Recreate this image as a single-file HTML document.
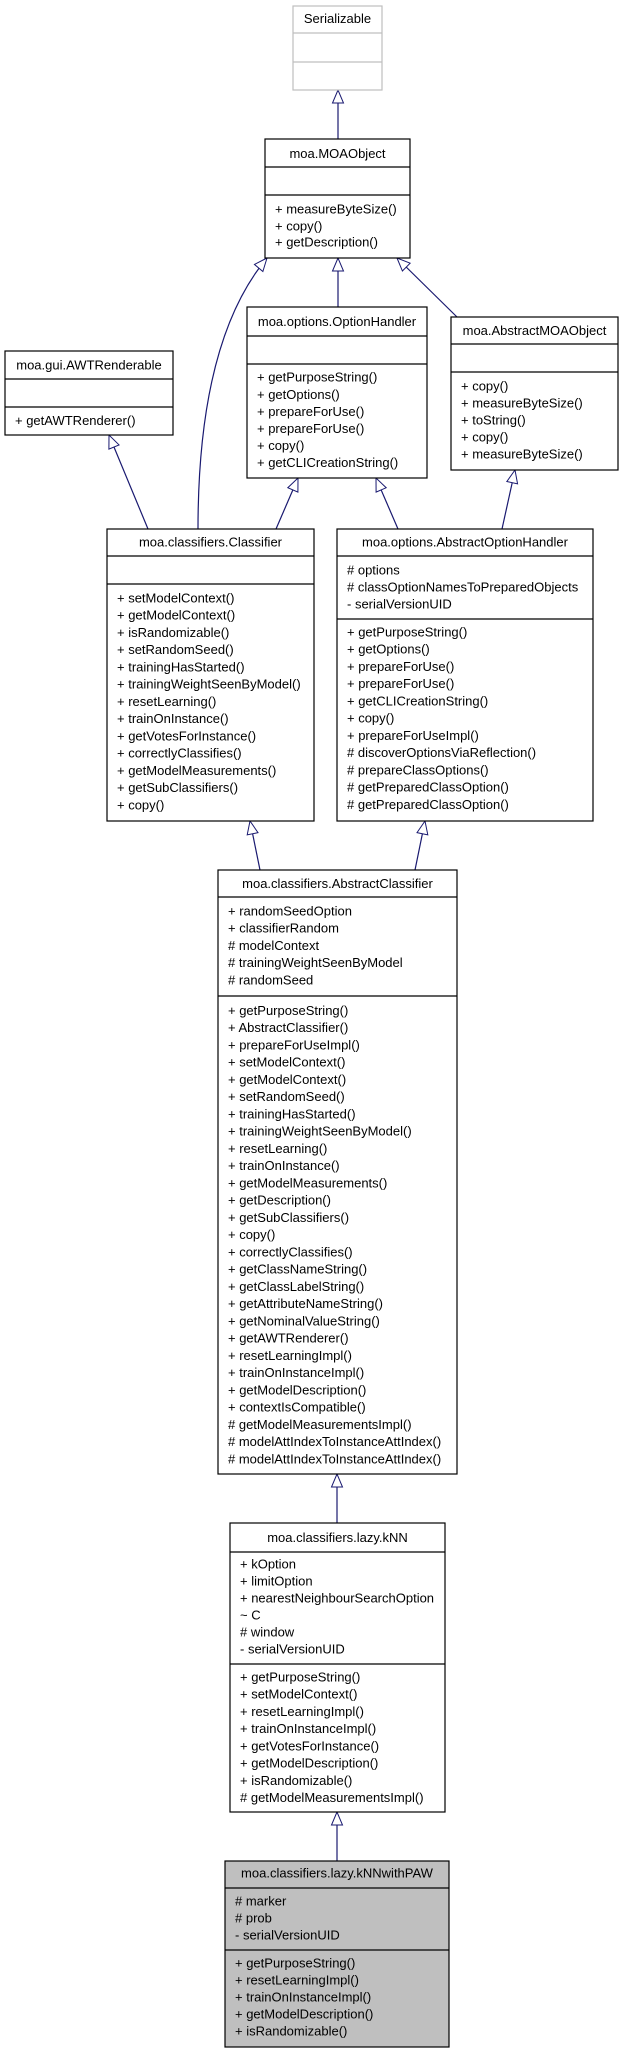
<!DOCTYPE html>
<html><head><meta charset="utf-8"><style>
html,body{margin:0;padding:0;background:#fff;}
svg{display:block;}
text{font-family:"Liberation Sans",Arial,sans-serif;font-size:13px;fill:#000;}
</style></head><body>
<svg width="624" height="2059" viewBox="0 0 624 2059" xmlns="http://www.w3.org/2000/svg">
<defs>
<marker id="a" markerUnits="userSpaceOnUse" markerWidth="16" markerHeight="14" viewBox="-14 -7 16 14" refX="0" refY="0" orient="auto">
<path d="M0,0 L-13,-5.5 L-13,5.5 Z" fill="#fff" stroke="#191970" stroke-width="1"/>
</marker>
</defs>
<g fill="none" stroke="#191970" stroke-width="1.2" marker-end="url(#a)">
<line x1="338" y1="139" x2="338" y2="90"/>
<line x1="338" y1="307" x2="338" y2="258"/>
<line x1="457" y1="317" x2="397" y2="258"/>
<path d="M198,529 C198,420 215,320 267,258"/>
<line x1="148" y1="529" x2="109" y2="435"/>
<line x1="276" y1="529" x2="298" y2="478"/>
<line x1="398" y1="529" x2="376" y2="478"/>
<line x1="502" y1="529" x2="515" y2="470"/>
<line x1="260" y1="870" x2="250" y2="821"/>
<line x1="415" y1="870" x2="425" y2="821"/>
<line x1="337" y1="1523" x2="337" y2="1474"/>
<line x1="337" y1="1861" x2="337" y2="1812"/>
</g>

<!-- Serializable -->
<g stroke="#bfbfbf" stroke-width="1.2" fill="#fff">
<rect x="293" y="6" width="89" height="84"/>
<line x1="293" y1="33" x2="382" y2="33"/><line x1="293" y1="62" x2="382" y2="62"/>
</g>
<text x="337.5" y="23" text-anchor="middle">Serializable</text>

<g stroke="#000" stroke-width="1.2" fill="#fff">
<!-- MOAObject -->
<rect x="265" y="139" width="145" height="119"/>
<line x1="265" y1="167" x2="410" y2="167"/><line x1="265" y1="195" x2="410" y2="195"/>
<!-- OptionHandler -->
<rect x="247" y="307" width="180" height="171"/>
<line x1="247" y1="336" x2="427" y2="336"/><line x1="247" y1="364" x2="427" y2="364"/>
<!-- AbstractMOAObject -->
<rect x="451" y="317" width="167" height="153"/>
<line x1="451" y1="344" x2="618" y2="344"/><line x1="451" y1="372" x2="618" y2="372"/>
<!-- AWTRenderable -->
<rect x="5" y="351" width="168" height="84"/>
<line x1="5" y1="379" x2="173" y2="379"/><line x1="5" y1="407" x2="173" y2="407"/>
<!-- Classifier -->
<rect x="107" y="529" width="207" height="292"/>
<line x1="107" y1="556" x2="314" y2="556"/><line x1="107" y1="584" x2="314" y2="584"/>
<!-- AbstractOptionHandler -->
<rect x="337" y="529" width="256" height="292"/>
<line x1="337" y1="556" x2="593" y2="556"/><line x1="337" y1="619" x2="593" y2="619"/>
<!-- AbstractClassifier -->
<rect x="218" y="870" width="239" height="604"/>
<line x1="218" y1="897" x2="457" y2="897"/><line x1="218" y1="996" x2="457" y2="996"/>
<!-- kNN -->
<rect x="230" y="1523" width="215" height="289"/>
<line x1="230" y1="1552" x2="445" y2="1552"/><line x1="230" y1="1664" x2="445" y2="1664"/>
</g>
<g stroke="#000" stroke-width="1.2" fill="#bfbfbf">
<rect x="225" y="1861" width="224" height="186"/>
<line x1="225" y1="1888" x2="449" y2="1888"/><line x1="225" y1="1950" x2="449" y2="1950"/>
</g>

<!-- MOAObject text -->
<text x="337.5" y="158" text-anchor="middle">moa.MOAObject</text>
<text x="275" y="213.5">+ measureByteSize()</text>
<text x="275" y="230.5">+ copy()</text>
<text x="275" y="246.5">+ getDescription()</text>

<!-- OptionHandler -->
<text x="337" y="326" text-anchor="middle">moa.options.OptionHandler</text>
<text x="257" y="381.5">+ getPurposeString()</text>
<text x="257" y="399">+ getOptions()</text>
<text x="257" y="416">+ prepareForUse()</text>
<text x="257" y="433">+ prepareForUse()</text>
<text x="257" y="450">+ copy()</text>
<text x="257" y="467">+ getCLICreationString()</text>

<!-- AbstractMOAObject -->
<text x="534.5" y="335" text-anchor="middle">moa.AbstractMOAObject</text>
<text x="461" y="390.5">+ copy()</text>
<text x="461" y="407.5">+ measureByteSize()</text>
<text x="461" y="424.5">+ toString()</text>
<text x="461" y="441.5">+ copy()</text>
<text x="461" y="458.5">+ measureByteSize()</text>

<!-- AWTRenderable -->
<text x="89" y="369.5" text-anchor="middle">moa.gui.AWTRenderable</text>
<text x="15" y="425">+ getAWTRenderer()</text>

<!-- Classifier -->
<text x="210.5" y="546.5" text-anchor="middle">moa.classifiers.Classifier</text>
<g>
<text x="117" y="602.5">+ setModelContext()</text>
<text x="117" y="619.7">+ getModelContext()</text>
<text x="117" y="637">+ isRandomizable()</text>
<text x="117" y="654.2">+ setRandomSeed()</text>
<text x="117" y="671.5">+ trainingHasStarted()</text>
<text x="117" y="688.7">+ trainingWeightSeenByModel()</text>
<text x="117" y="706">+ resetLearning()</text>
<text x="117" y="723.2">+ trainOnInstance()</text>
<text x="117" y="740.5">+ getVotesForInstance()</text>
<text x="117" y="757.7">+ correctlyClassifies()</text>
<text x="117" y="775">+ getModelMeasurements()</text>
<text x="117" y="792.2">+ getSubClassifiers()</text>
<text x="117" y="809.5">+ copy()</text>
</g>

<!-- AbstractOptionHandler -->
<text x="465" y="546.5" text-anchor="middle">moa.options.AbstractOptionHandler</text>
<text x="347" y="574.5"># options</text>
<text x="347" y="591.5"># classOptionNamesToPreparedObjects</text>
<text x="347" y="608.5">- serialVersionUID</text>
<text x="347" y="636.5">+ getPurposeString()</text>
<text x="347" y="653.7">+ getOptions()</text>
<text x="347" y="671">+ prepareForUse()</text>
<text x="347" y="688.2">+ prepareForUse()</text>
<text x="347" y="705.5">+ getCLICreationString()</text>
<text x="347" y="722.7">+ copy()</text>
<text x="347" y="740">+ prepareForUseImpl()</text>
<text x="347" y="757.2"># discoverOptionsViaReflection()</text>
<text x="347" y="774.5"># prepareClassOptions()</text>
<text x="347" y="791.7"># getPreparedClassOption()</text>
<text x="347" y="809"># getPreparedClassOption()</text>

<!-- AbstractClassifier -->
<text x="337.5" y="888" text-anchor="middle">moa.classifiers.AbstractClassifier</text>
<text x="228" y="915.5">+ randomSeedOption</text>
<text x="228" y="932.7">+ classifierRandom</text>
<text x="228" y="950"># modelContext</text>
<text x="228" y="967.2"># trainingWeightSeenByModel</text>
<text x="228" y="984.5"># randomSeed</text>
<g>
<text x="228" y="1015">+ getPurposeString()</text>
<text x="228" y="1032.2">+ AbstractClassifier()</text>
<text x="228" y="1049.5">+ prepareForUseImpl()</text>
<text x="228" y="1066.7">+ setModelContext()</text>
<text x="228" y="1084">+ getModelContext()</text>
<text x="228" y="1101.2">+ setRandomSeed()</text>
<text x="228" y="1118.5">+ trainingHasStarted()</text>
<text x="228" y="1135.7">+ trainingWeightSeenByModel()</text>
<text x="228" y="1153">+ resetLearning()</text>
<text x="228" y="1170.2">+ trainOnInstance()</text>
<text x="228" y="1187.5">+ getModelMeasurements()</text>
<text x="228" y="1204.7">+ getDescription()</text>
<text x="228" y="1222">+ getSubClassifiers()</text>
<text x="228" y="1239.2">+ copy()</text>
<text x="228" y="1256.5">+ correctlyClassifies()</text>
<text x="228" y="1273.7">+ getClassNameString()</text>
<text x="228" y="1291">+ getClassLabelString()</text>
<text x="228" y="1308.2">+ getAttributeNameString()</text>
<text x="228" y="1325.5">+ getNominalValueString()</text>
<text x="228" y="1342.7">+ getAWTRenderer()</text>
<text x="228" y="1360">+ resetLearningImpl()</text>
<text x="228" y="1377.2">+ trainOnInstanceImpl()</text>
<text x="228" y="1394.5">+ getModelDescription()</text>
<text x="228" y="1411.7">+ contextIsCompatible()</text>
<text x="228" y="1429"># getModelMeasurementsImpl()</text>
<text x="228" y="1446.2"># modelAttIndexToInstanceAttIndex()</text>
<text x="228" y="1463.5"># modelAttIndexToInstanceAttIndex()</text>
</g>

<!-- kNN -->
<text x="337.5" y="1542" text-anchor="middle">moa.classifiers.lazy.kNN</text>
<text x="240" y="1568.5">+ kOption</text>
<text x="240" y="1585.5">+ limitOption</text>
<text x="240" y="1602.5">+ nearestNeighbourSearchOption</text>
<text x="240" y="1619.5">~ C</text>
<text x="240" y="1636.5"># window</text>
<text x="240" y="1653.5">- serialVersionUID</text>
<text x="240" y="1681.5">+ getPurposeString()</text>
<text x="240" y="1698.7">+ setModelContext()</text>
<text x="240" y="1716">+ resetLearningImpl()</text>
<text x="240" y="1733.2">+ trainOnInstanceImpl()</text>
<text x="240" y="1750.5">+ getVotesForInstance()</text>
<text x="240" y="1767.7">+ getModelDescription()</text>
<text x="240" y="1785">+ isRandomizable()</text>
<text x="240" y="1802.2"># getModelMeasurementsImpl()</text>

<!-- kNNwithPAW -->
<text x="337" y="1877.5" text-anchor="middle">moa.classifiers.lazy.kNNwithPAW</text>
<text x="235" y="1905.5"># marker</text>
<text x="235" y="1922.5"># prob</text>
<text x="235" y="1939.5">- serialVersionUID</text>
<text x="235" y="1967.5">+ getPurposeString()</text>
<text x="235" y="1984.5">+ resetLearningImpl()</text>
<text x="235" y="2001.5">+ trainOnInstanceImpl()</text>
<text x="235" y="2018.5">+ getModelDescription()</text>
<text x="235" y="2035.5">+ isRandomizable()</text>
</svg>
</body></html>
